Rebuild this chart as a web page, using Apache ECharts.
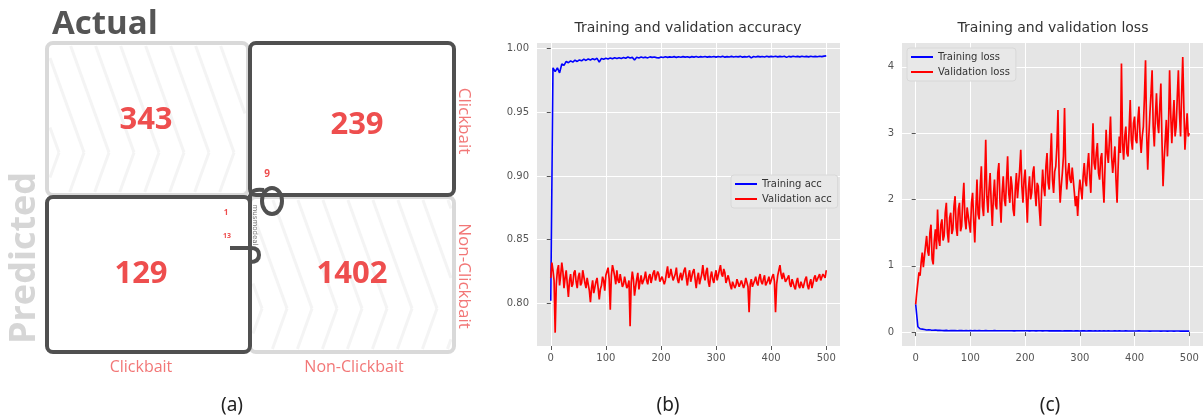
<!DOCTYPE html>
<html>
<head>
<meta charset="utf-8">
<script src="https://cdn.jsdelivr.net/npm/echarts@6/dist/echarts.min.js"></script>
<style>
  html, body { margin: 0; padding: 0; background: #fff; }
  #main { width: 1203px; height: 420px; }
</style>
</head>
<body>
<div id="main"></div>
<script>
// confusion matrix cells (panel a)
const cmRows = ['Clickbait', 'Non-Clickbait'];
const cmCols = ['Clickbait', 'Non-Clickbait'];
const cmValues = [[343, 239], [129, 1402]];

const xTicks = [0, 100, 200, 300, 400, 500];
const accTicks = [0.80, 0.85, 0.90, 0.95, 1.00];
const lossTicks = [0, 1, 2, 3, 4];

// training curves: one sample every 4 epochs, 0..500
const TRAIN_STEP = 4;
const trainAcc = [
  0.802,0.985,0.982,0.985,0.981,0.988,0.987,0.990,0.989,0.9905,
  0.9895,0.991,0.990,0.9912,0.9905,0.9918,0.9908,0.992,0.9912,0.9922,
  0.9914,0.9925,0.9895,0.9924,0.9918,0.9926,0.992,0.9928,0.9921,0.9929,
  0.9923,0.993,0.9924,0.9931,0.9925,0.9935,0.9927,0.9932,0.9912,0.9933,
  0.9928,0.9935,0.9929,0.9934,0.9928,0.9936,0.9932,0.9935,0.993,0.9928,
  0.9935,0.9931,0.9937,0.9932,0.9936,0.9933,0.9938,0.9932,0.9937,0.9933,
  0.9938,0.9934,0.9937,0.9932,0.9938,0.9934,0.9939,0.9933,0.9938,0.9935,
  0.9939,0.9934,0.9938,0.9935,0.9939,0.9934,0.9939,0.9935,0.994,0.9934,
  0.9938,0.9935,0.994,0.9935,0.9939,0.9936,0.994,0.9934,0.9938,0.9935,
  0.9941,0.9928,0.9939,0.9935,0.994,0.9936,0.9939,0.9935,0.9941,0.9936,
  0.994,0.9937,0.9941,0.9936,0.994,0.9937,0.9941,0.9932,0.994,0.9936,
  0.9941,0.9937,0.994,0.9936,0.9941,0.9937,0.994,0.9936,0.9941,0.9937,
  0.994,0.9937,0.9941,0.9938,0.9942,0.9944
];
const trainLoss = [
  0.42,0.08,0.05,0.045,0.04,0.032,0.036,0.03,0.028,0.031,
  0.026,0.028,0.024,0.022,0.025,0.021,0.023,0.022,0.024,0.021,
  0.022,0.023,0.021,0.023,0.02,0.022,0.021,0.023,0.02,0.022,
  0.021,0.02,0.022,0.019,0.021,0.02,0.022,0.019,0.021,0.02,
  0.02,0.019,0.021,0.019,0.02,0.018,0.02,0.019,0.021,0.019,
  0.019,0.02,0.018,0.02,0.019,0.018,0.02,0.019,0.018,0.02,
  0.019,0.018,0.02,0.018,0.019,0.018,0.019,0.017,0.019,0.018,
  0.018,0.019,0.017,0.019,0.018,0.017,0.019,0.018,0.017,0.018,
  0.018,0.017,0.019,0.017,0.018,0.017,0.018,0.016,0.018,0.017,
  0.017,0.018,0.016,0.018,0.017,0.016,0.018,0.017,0.016,0.017,
  0.017,0.016,0.018,0.016,0.017,0.016,0.017,0.015,0.017,0.016,
  0.016,0.017,0.015,0.017,0.016,0.015,0.017,0.016,0.015,0.016,
  0.016,0.015,0.016,0.015,0.016,0.015
];

// validation curves: one sample every 2 epochs, 0..500
const VAL_STEP = 2;
const valAcc = [
  0.820,0.832,0.826,0.818,0.777,0.815,0.826,0.830,0.814,0.822,0.832,0.825,0.812,0.820,0.826,0.815,0.805,0.818,0.823,0.813,
  0.815,0.824,0.826,0.817,0.812,0.821,0.824,0.814,0.816,0.826,0.825,0.816,0.812,0.820,0.821,0.810,0.801,0.812,0.818,0.808,
  0.808,0.817,0.820,0.812,0.803,0.811,0.814,0.821,0.818,0.810,0.822,0.825,0.828,0.819,0.795,0.822,0.830,0.826,0.821,0.815,
  0.826,0.818,0.816,0.823,0.822,0.813,0.815,0.821,0.820,0.812,0.814,0.818,0.782,0.816,0.825,0.819,0.806,0.813,0.819,0.824,
  0.811,0.817,0.822,0.815,0.814,0.820,0.825,0.818,0.815,0.821,0.823,0.816,0.817,0.824,0.826,0.818,0.819,0.825,0.823,0.817,
  0.816,0.821,0.822,0.815,0.818,0.824,0.829,0.820,0.822,0.827,0.826,0.818,0.817,0.823,0.828,0.819,0.816,0.821,0.824,0.818,
  0.819,0.826,0.828,0.820,0.814,0.822,0.826,0.817,0.818,0.825,0.827,0.819,0.812,0.820,0.824,0.815,0.816,0.823,0.830,0.822,
  0.818,0.825,0.828,0.817,0.813,0.821,0.825,0.819,0.816,0.822,0.826,0.818,0.819,0.826,0.830,0.823,0.821,0.827,0.824,0.816,
  0.817,0.822,0.821,0.814,0.811,0.817,0.818,0.812,0.814,0.819,0.820,0.813,0.812,0.818,0.818,0.812,0.815,0.820,0.820,0.813,
  0.793,0.815,0.819,0.813,0.812,0.818,0.821,0.816,0.814,0.820,0.823,0.817,0.815,0.819,0.822,0.814,0.813,0.818,0.821,0.815,
  0.816,0.821,0.823,0.817,0.793,0.815,0.822,0.826,0.830,0.823,0.819,0.824,0.825,0.817,0.816,0.820,0.822,0.815,0.813,0.819,
  0.818,0.813,0.811,0.817,0.820,0.814,0.812,0.817,0.818,0.812,0.813,0.819,0.821,0.814,0.811,0.816,0.819,0.812,0.813,0.820,
  0.822,0.817,0.816,0.821,0.823,0.818,0.818,0.823,0.824,0.820,0.826
];
const valLoss = [
  0.42,0.60,0.75,0.90,0.85,1.05,1.20,0.98,0.95,1.30,1.45,1.22,1.15,1.50,1.62,1.10,1.02,1.38,1.55,1.25,
  1.85,1.40,1.30,1.62,1.70,1.38,1.45,1.80,1.95,1.50,1.35,1.72,1.80,1.48,1.55,1.90,2.05,1.58,1.45,1.85,
  1.95,1.52,1.60,1.98,2.25,1.70,1.55,1.88,1.90,1.62,1.50,1.95,2.10,1.68,1.35,1.85,2.30,1.78,1.70,2.20,
  2.50,1.90,1.75,2.20,2.90,2.05,1.80,2.15,2.40,1.95,1.60,2.05,2.30,1.92,1.85,2.40,2.55,1.98,1.65,2.10,
  2.35,2.00,1.90,2.30,2.65,2.10,1.95,2.35,2.20,1.85,1.75,2.15,2.40,2.02,2.05,2.45,2.75,2.20,1.95,2.30,
  2.45,2.05,1.65,2.15,2.35,2.00,2.10,2.40,2.50,2.12,1.90,2.25,2.20,1.85,1.60,2.10,2.45,2.18,2.05,2.50,
  2.70,2.25,2.15,2.60,3.00,2.30,2.10,2.42,2.50,2.80,3.35,2.40,1.95,2.20,2.40,2.65,3.38,2.50,2.15,2.40,
  2.55,2.30,2.25,2.48,2.45,2.10,1.90,2.05,1.75,2.10,2.30,2.15,2.00,2.35,2.55,2.28,2.20,2.50,2.70,2.35,
  2.10,2.60,3.15,2.55,2.45,2.70,2.85,2.40,2.30,2.62,2.70,2.25,1.95,2.50,3.05,2.70,2.55,2.90,3.25,2.65,
  2.40,2.60,2.80,2.30,1.95,2.50,2.95,2.70,4.05,2.85,2.60,2.95,3.10,2.70,2.65,3.05,3.50,2.90,2.75,3.15,
  3.25,2.90,2.85,3.20,3.40,2.95,2.70,2.95,3.10,3.55,4.10,3.00,2.45,2.95,3.30,3.60,3.95,3.10,2.80,3.25,
  3.60,3.15,3.00,3.40,3.75,2.90,2.20,2.60,2.90,3.20,2.65,3.10,3.95,3.30,2.85,3.20,3.50,2.95,3.10,3.55,
  3.95,3.30,2.95,3.60,4.15,3.40,2.75,3.05,3.30,2.95,3.00
];

const toPts = (arr, step) => arr.map((v, i) => [i * step, v]);

const DARK = '#505050';
const LIGHT = '#d9d9d9';
const RED = '#ee4e4e';
const PINK = '#f27777';

// cells: [x, y, w, h, dark?]
const cells = [
  [47, 43, 201, 152, false],
  [250, 43, 204, 152, true],
  [47, 197, 203, 155, true],
  [250, 197, 204, 155, false]
];
const numPos = [[[146, 120], [357, 125]], [[141, 274], [352, 274]]];

function clipX(a, b, x0, x1) {
  if (a[0] > b[0]) { const t = a; a = b; b = t; }
  if (b[0] < x0 || a[0] > x1) return null;
  const at = x => [x, a[1] + (b[1] - a[1]) * (x - a[0]) / (b[0] - a[0])];
  return [a[0] < x0 ? at(x0) : a, b[0] > x1 ? at(x1) : b];
}

// faint chevron texture of the light cells
function chevrons(bx, by, bw, bh) {
  const out = [];
  const top = by + 3, bot = by + bh - 3, l = bx + 3, r = bx + bw - 3;
  const vy = by + 0.72 * bh;
  for (let vx = bx + 12; vx < bx + bw + 45; vx += 25) {
    const arms = [[[vx - 0.36 * (vy - top), top], [vx, vy]], [[vx, vy], [vx - 0.36 * (bot - vy), bot]]];
    arms.forEach(([p, q]) => {
      const s = clipX(p, q, l, r);
      if (s) out.push({
        type: 'line', silent: true,
        shape: { x1: s[0][0], y1: s[0][1], x2: s[1][0], y2: s[1][1] },
        style: { stroke: '#f4f4f4', lineWidth: 3 }
      });
    });
  }
  return out;
}

const graphics = [];
cells.forEach(c => { if (!c[4]) graphics.push(...chevrons(c[0], c[1], c[2], c[3])); });
cells.filter(c => !c[4]).concat(cells.filter(c => c[4])).forEach(c => {
  graphics.push({
    type: 'rect', silent: true,
    shape: { x: c[0], y: c[1], width: c[2], height: c[3], r: 6 },
    style: { fill: 'none', stroke: c[4] ? DARK : LIGHT, lineWidth: 4 }
  });
});
// odd joint in the middle
const joint = { fill: 'none', stroke: DARK, lineWidth: 4 };
graphics.push(
  { type: 'line', shape: { x1: 250, y1: 195, x2: 250, y2: 264 }, style: joint },
  { type: 'ellipse', shape: { cx: 272, cy: 201, rx: 10, ry: 13 }, style: joint },
  { type: 'bezierCurve', shape: { x1: 250, y1: 197, cpx1: 251, cpy1: 188, x2: 264, y2: 190 }, style: joint },
  { type: 'line', shape: { x1: 230, y1: 248, x2: 251, y2: 248 }, style: joint },
  { type: 'bezierCurve', shape: { x1: 251, y1: 248, cpx1: 259, cpy1: 248, x2: 259, y2: 255 }, style: joint },
  { type: 'bezierCurve', shape: { x1: 259, y1: 255, cpx1: 259, cpy1: 262, x2: 250, y2: 262 }, style: joint },
  { type: 'text', x: 255, y: 225, rotation: -Math.PI / 2, style: { text: 'musmodeal', font: '7px "DejaVu Sans"', fill: '#777', textAlign: 'center', textVerticalAlign: 'middle' } },
  { type: 'text', style: { text: '9', x: 267, y: 174, font: 'bold 10px "Open Sans"', fill: RED, textAlign: 'center', textVerticalAlign: 'middle' } },
  { type: 'text', style: { text: '1', x: 226, y: 213, font: 'bold 8px "Open Sans"', fill: RED, textAlign: 'center', textVerticalAlign: 'middle' } },
  { type: 'text', style: { text: '13', x: 227, y: 236, font: 'bold 7px "Open Sans"', fill: RED, textAlign: 'center', textVerticalAlign: 'middle' } }
);
cmValues.forEach((row, i) => row.forEach((v, j) => {
  graphics.push({
    type: 'text',
    style: { text: String(v), x: numPos[i][j][0], y: numPos[i][j][1], font: 'bold 31px "Open Sans"', fill: RED, textAlign: 'center', textVerticalAlign: 'middle' }
  });
}));
graphics.push(
  { type: 'text', style: { text: 'Actual', x: 52, y: 25, font: 'bold 33px "Open Sans"', fill: '#555', textVerticalAlign: 'middle' } },
  { type: 'text', x: 25, y: 258, rotation: Math.PI / 2, style: { text: 'Predicted', font: 'bold 36px "Open Sans"', fill: '#d6d6d6', textAlign: 'center', textVerticalAlign: 'middle' } },
  { type: 'text', style: { text: cmCols[0], x: 141, y: 367, font: '16px "Open Sans"', fill: PINK, textAlign: 'center', textVerticalAlign: 'middle' } },
  { type: 'text', style: { text: cmCols[1], x: 354, y: 367, font: '16px "Open Sans"', fill: PINK, textAlign: 'center', textVerticalAlign: 'middle' } },
  { type: 'text', x: 464, y: 121, rotation: -Math.PI / 2, style: { text: cmRows[0], font: '17px "Open Sans"', fill: PINK, textAlign: 'center', textVerticalAlign: 'middle' } },
  { type: 'text', x: 464, y: 276, rotation: -Math.PI / 2, style: { text: cmRows[1], font: '17px "Open Sans"', fill: PINK, textAlign: 'center', textVerticalAlign: 'middle' } }
);
[['(a)', 232], ['(b)', 668], ['(c)', 1050]].forEach(([t, x]) => {
  graphics.push({ type: 'text', style: { text: t, x: x, y: 406, font: '19px "Noto Sans"', fill: '#222', textAlign: 'center', textVerticalAlign: 'middle' } });
});

const tickColor = '#555';
function xAxisOf(gi) {
  return {
    type: 'value', gridIndex: gi, min: -25, max: 525,
    axisLine: { show: false },
    axisTick: { show: true, length: 4, customValues: xTicks, lineStyle: { color: tickColor } },
    axisLabel: { customValues: xTicks, margin: 7, fontSize: 10, color: tickColor, fontFamily: 'DejaVu Sans' },
    splitLine: { show: true, lineStyle: { color: '#fff', width: 1 } }
  };
}
function yAxisOf(gi, min, max, ticks, fmt) {
  return {
    type: 'value', gridIndex: gi, min: min, max: max,
    axisLine: { show: false },
    axisTick: { show: true, length: 4, customValues: ticks, lineStyle: { color: tickColor } },
    axisLabel: { customValues: ticks, margin: 8, fontSize: 10, color: tickColor, fontFamily: 'DejaVu Sans', formatter: fmt },
    splitLine: { show: true, lineStyle: { color: '#fff', width: 1 } }
  };
}
function legendOf(names, left, top) {
  return {
    data: names, left: left, top: top, orient: 'vertical',
    backgroundColor: '#e8e8e8', borderColor: '#d8d8d8', borderWidth: 1, borderRadius: 3,
    padding: [4, 6, 4, 4], itemGap: 5, itemWidth: 22, itemHeight: 2, icon: 'rect',
    textStyle: { fontSize: 10, color: '#333', fontFamily: 'DejaVu Sans' }
  };
}
const lineStyle = (color, w) => ({ width: w, color: color });

const chart = echarts.init(document.getElementById('main'), null, { renderer: 'canvas' });
chart.setOption({
  animation: false,
  backgroundColor: '#fff',
  title: [
    { text: 'Training and validation accuracy', left: 688, top: 21, padding: 0, textAlign: 'center',
      textStyle: { fontSize: 14, fontWeight: 'normal', color: '#333', fontFamily: 'DejaVu Sans' } },
    { text: 'Training and validation loss', left: 1053, top: 21, padding: 0, textAlign: 'center',
      textStyle: { fontSize: 14, fontWeight: 'normal', color: '#333', fontFamily: 'DejaVu Sans' } }
  ],
  grid: [
    { left: 537, top: 43, width: 303, height: 303, show: true, backgroundColor: '#e5e5e5', borderWidth: 0 },
    { left: 902, top: 43, width: 303, height: 303, show: true, backgroundColor: '#e5e5e5', borderWidth: 0 }
  ],
  xAxis: [xAxisOf(0), xAxisOf(1)],
  yAxis: [
    yAxisOf(0, 0.7665, 1.0045, accTicks, v => v.toFixed(2)),
    yAxisOf(1, -0.21, 4.36, lossTicks, v => String(v))
  ],
  legend: [
    legendOf(['Training acc', 'Validation acc'], 731, 175),
    legendOf(['Training loss', 'Validation loss'], 907, 48)
  ],
  series: [
    { name: 'Training acc', type: 'line', xAxisIndex: 0, yAxisIndex: 0, data: toPts(trainAcc, TRAIN_STEP), showSymbol: false, symbol: 'none', color: '#0000ff', lineStyle: lineStyle('#0000ff', 1.6) },
    { name: 'Validation acc', type: 'line', xAxisIndex: 0, yAxisIndex: 0, data: toPts(valAcc, VAL_STEP), showSymbol: false, symbol: 'none', color: '#ff0000', lineStyle: lineStyle('#ff0000', 1.7) },
    { name: 'Training loss', type: 'line', xAxisIndex: 1, yAxisIndex: 1, data: toPts(trainLoss, TRAIN_STEP), showSymbol: false, symbol: 'none', color: '#0000ff', lineStyle: lineStyle('#0000ff', 1.6) },
    { name: 'Validation loss', type: 'line', xAxisIndex: 1, yAxisIndex: 1, data: toPts(valLoss, VAL_STEP), showSymbol: false, symbol: 'none', color: '#ff0000', lineStyle: lineStyle('#ff0000', 1.7) }
  ],
  graphic: graphics
});
</script>
</body>
</html>
